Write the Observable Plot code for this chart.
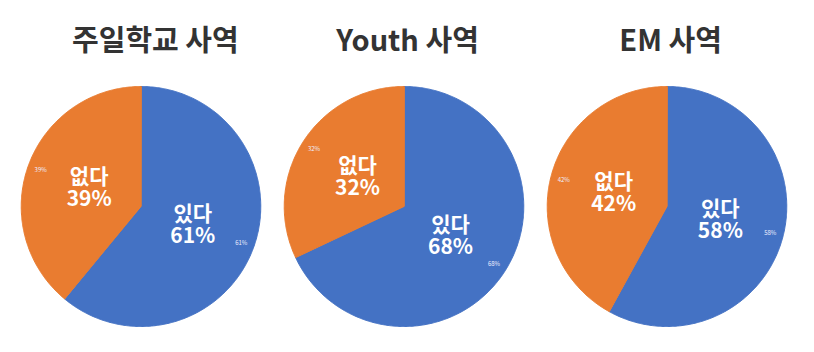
<!DOCTYPE html>
<html><head><meta charset="utf-8">
<script src="https://cdn.jsdelivr.net/npm/d3@7"></script>
<script src="https://cdn.jsdelivr.net/npm/@observablehq/plot@0.6"></script>
<style>body{margin:0;background:#fff;}</style>
</head><body><div id="chart"></div>
<script>
const charts = ["주일학교 사역", "Youth 사역", "EM 사역"];
const categories = ["있다", "없다"];
const yesValues = [61, 68, 58];
const noValues = [39, 32, 42];
const colors = ["#4472C4", "#E97C30"];

const rows = [];
charts.forEach((c, i) => {
  rows.push({chart: c, cat: categories[0], value: yesValues[i]});
  rows.push({chart: c, cat: categories[1], value: noValues[i]});
});

const slicePts = [], bigLabels = [], smallLabels = [];
for (const c of charts) {
  const data = rows.filter(r => r.chart === c);
  const arcs = d3.pie().sort(null).value(d => d.value)(data);
  arcs.forEach((a, j) => {
    const id = c + "-" + j;
    slicePts.push({id, chart: c, cat: a.data.cat, x: 0, y: 0});
    const n = Math.max(2, Math.ceil((a.endAngle - a.startAngle) / 0.01));
    for (let k = 0; k <= n; k++) {
      const t = a.startAngle + (a.endAngle - a.startAngle) * k / n;
      slicePts.push({id, chart: c, cat: a.data.cat, x: Math.sin(t), y: Math.cos(t)});
    }
    const m = (a.startAngle + a.endAngle) / 2;
    bigLabels.push({chart: c, x: 0.46 * Math.sin(m), y: 0.46 * Math.cos(m), text: a.data.cat + "\n" + a.data.value + "%"});
    smallLabels.push({chart: c, x: 0.89 * Math.sin(m), y: 0.89 * Math.cos(m), text: a.data.value + "%"});
  });
}

const plot = Plot.plot({
  width: 814,
  height: 352,
  marginLeft: 8,
  marginRight: 15,
  marginTop: 62,
  marginBottom: 2,
  style: {fontFamily: "'Noto Sans CJK KR', 'Noto Sans', sans-serif", background: "#fff"},
  fx: {domain: charts, padding: 0, axis: null},
  x: {domain: [-1.098, 1.098], axis: null},
  y: {domain: [-1.2, 1.2], axis: null},
  color: {domain: categories, range: colors},
  marks: [
    Plot.line(slicePts, {fx: "chart", x: "x", y: "y", z: "id", fill: "cat", stroke: "cat", strokeWidth: 1, curve: "linear-closed"}),
    Plot.text(bigLabels, {fx: "chart", x: "x", y: "y", text: "text", fill: "#fff", fontSize: 21, fontWeight: "bold", lineHeight: 1.05}),
    Plot.text(smallLabels, {fx: "chart", x: "x", y: "y", text: "text", fill: "#eef", fontSize: 6}),
    Plot.text(charts, {fx: d => d, x: d => d === charts[0] ? 0.12 : 0.03, y: () => 1.37, text: d => d, fill: "#333", fontSize: 29, fontWeight: "bold", letterSpacing: 1})
  ]
});
plot.querySelectorAll("text").forEach(t => { if (t.getAttribute("font-size") === "29") t.setAttribute("letter-spacing", "1"); });
document.getElementById("chart").appendChild(plot);
</script>
</body></html>
